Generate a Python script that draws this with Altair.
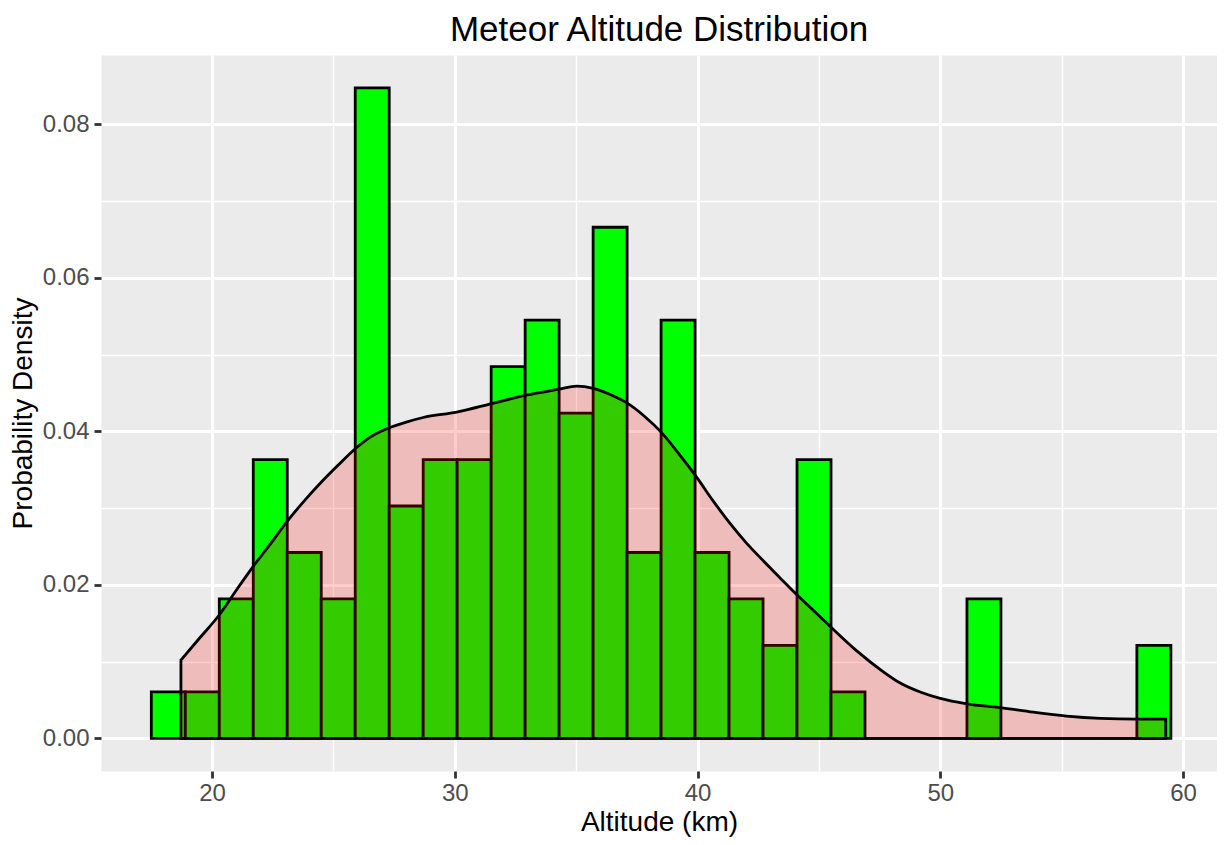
import altair as alt
import pandas as pd

# Histogram bins (km) and densities
bin_left = [17.5, 18.9, 20.3, 21.7, 23.1, 24.5, 25.9, 27.3, 28.7, 30.1,
            31.5, 32.9, 34.3, 35.7, 37.1, 38.5, 39.9, 41.3, 42.7, 44.1,
            45.5, 46.9, 48.3, 49.7, 51.1, 52.5, 53.9, 55.3, 56.7, 58.1]
bin_right = [18.9, 20.3, 21.7, 23.1, 24.5, 25.9, 27.3, 28.7, 30.1, 31.5,
             32.9, 34.3, 35.7, 37.1, 38.5, 39.9, 41.3, 42.7, 44.1, 45.5,
             46.9, 48.3, 49.7, 51.1, 52.5, 53.9, 55.3, 56.7, 58.1, 59.5]
bar_density = [0.00605, 0.00605, 0.01816, 0.03632, 0.02421, 0.01816, 0.08475, 0.03027, 0.03632, 0.03632,
               0.04843, 0.05448, 0.04237, 0.06659, 0.02421, 0.05448, 0.02421, 0.01816, 0.01211, 0.03632,
               0.00605, 0.0, 0.0, 0.0, 0.01816, 0.0, 0.0, 0.0, 0.0, 0.01211]

# Kernel density curve
kde_x = [18.72, 19.5, 20.33, 21.0, 21.7, 22.4, 23.08, 23.9, 24.45, 25.2,
         25.89, 26.6, 27.33, 28.0, 28.7, 30.08, 31.52, 32.94, 34.31, 35.03,
         35.71, 36.4, 37.09, 37.8, 38.53, 39.25, 39.97, 40.65, 41.34, 42.0,
         42.72, 43.4, 44.09, 44.8, 45.46, 46.56, 47.6, 48.35, 49.2, 50.0,
         51.1, 52.47, 53.84, 55.2, 56.6, 58.1, 59.29]
kde_y = [0.0102, 0.0131, 0.0162, 0.0193, 0.0224, 0.0253, 0.0282, 0.0313, 0.0332, 0.0356,
         0.0377, 0.0394, 0.0405, 0.0412, 0.0418, 0.0425, 0.0436, 0.0447, 0.0455, 0.0459,
         0.0456, 0.0448, 0.0437, 0.0420, 0.0398, 0.0370, 0.0340, 0.0309, 0.0280, 0.0255,
         0.0231, 0.0209, 0.0187, 0.0166, 0.0146, 0.0114, 0.0088, 0.0072, 0.0060, 0.0052,
         0.0045, 0.0040, 0.0034, 0.0029, 0.0026, 0.0025, 0.0025]

x_ticks = [20, 25, 30, 35, 40, 45, 50, 55, 60]
y_ticks = [0.0, 0.01, 0.02, 0.03, 0.04, 0.05, 0.06, 0.07, 0.08]

hist_df = pd.DataFrame({"left": bin_left, "right": bin_right, "density": bar_density})
kde_df = pd.DataFrame({"altitude": kde_x, "density": kde_y})

FONT = "Liberation Sans"
xscale = alt.Scale(domain=[15.427, 61.4006], nice=False, zero=False)
yscale = alt.Scale(domain=[-0.004258, 0.08903], nice=False, zero=False)

xmajor = "datum.value % 10 === 0"
ymajor = "round(datum.value * 100) % 2 === 0"

xaxis = alt.Axis(
    values=x_ticks,
    labelExpr=f"{xmajor} ? datum.label : ''",
    tickOpacity={"condition": {"test": xmajor, "value": 1}, "value": 0},
    gridWidth={"condition": {"test": xmajor, "value": 2.9}, "value": 1.45},
    grid=True,
    tickSize=7,
    labelPadding=3,
    titleY=59,
    titleBaseline="alphabetic",
)
yaxis = alt.Axis(
    values=y_ticks,
    format=".2f",
    labelExpr=f"{ymajor} ? datum.label : ''",
    tickOpacity={"condition": {"test": ymajor, "value": 1}, "value": 0},
    gridWidth={"condition": {"test": ymajor, "value": 2.9}, "value": 1.45},
    grid=True,
    tickSize=7,
    labelPadding=5,
    titlePadding=5,
)

bars = alt.Chart(hist_df).mark_rect(
    fill="#00FF00", stroke="black", strokeWidth=2.8
).encode(
    x=alt.X("left:Q", scale=xscale, axis=xaxis, title="Altitude (km)"),
    x2="right:Q",
    y=alt.Y("density:Q", scale=yscale, axis=yaxis, title="Probability Density"),
    y2=alt.datum(0),
)

area = alt.Chart(kde_df).mark_area(
    fill="#FF0000", fillOpacity=0.2, stroke="black", strokeWidth=2.8,
    interpolate="monotone"
).encode(
    x=alt.X("altitude:Q", scale=xscale),
    y=alt.Y("density:Q", scale=yscale),
    y2=alt.datum(0),
)

chart = alt.layer(bars, area).properties(
    width=1116,
    height=716,
    autosize="none",
    padding={"left": 93, "top": 47, "right": 0, "bottom": 66},
    title=alt.TitleParams(
        "Meteor Altitude Distribution",
        font=FONT, fontSize=35, fontWeight="normal", color="black",
        anchor="middle", frame="group", offset=7,
    ),
).configure_view(
    fill="#EBEBEB", stroke="transparent"
).configure_axis(
    domain=False,
    gridColor="white",
    tickColor="#333333",
    tickWidth=2.8,
    labelColor="#4D4D4D",
    labelFont=FONT,
    labelFontSize=24,
    titleFont=FONT,
    titleFontSize=28,
    titleFontWeight="normal",
    titleColor="black",
)

chart.save("out.html", embed_options={"renderer": "svg", "actions": False})
